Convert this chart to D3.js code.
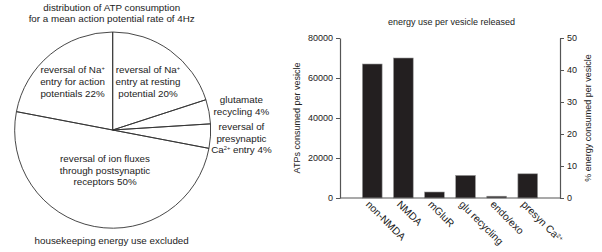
<!DOCTYPE html>
<html>
<head>
<meta charset="utf-8">
<script src="https://cdn.jsdelivr.net/npm/d3@7"></script>
<style>
  body { margin: 0; background: #fff; }
  text { font-family: Arial, "Liberation Sans", sans-serif; fill: #222; }
</style>
</head>
<body>
<svg id="chart"></svg>
<script>
// pie: ATP consumption (clockwise from 12 o'clock)
const pieLabels = [
    ["reversal of Na^+", "entry at resting", "potential 20%"],
    ["glutamate", "recycling 4%"],
    ["reversal of", "presynaptic", "Ca^2+ entry 4%"],
    ["reversal of ion fluxes", "through postsynaptic", "receptors 50%"],
    ["reversal of Na^+", "entry for action", "potentials 22%"]
];
const pieValues = [20, 4, 4, 50, 22];
const pieTitle = ["distribution of ATP consumption", "for a mean action potential rate of 4Hz"];
const pieNote = "housekeeping energy use excluded";

// bars: ATPs per vesicle
const barCategories = ["non-NMDA", "NMDA", "mGluR", "glu recycling", "endo/exo", "presyn Ca^2+"];
const barValues = [67000, 70000, 3000, 11300, 900, 12100];
const leftTicks = [0, 20000, 40000, 60000, 80000];
const rightTicks = [0, 10, 20, 30, 40, 50];

const W = 602, H = 252;
const svg = d3.select("#chart").attr("width", W).attr("height", H);

// write a line of text with ^sup parts
function richLine(sel, str, size) {
    const parts = str.split(/\^(\S+)/);
    parts.forEach((p, i) => {
        if (!p) return;
        const ts = sel.append("tspan").text(p);
        if (i % 2 === 1) {
            ts.attr("baseline-shift", "2.6px").style("font-size", (size * 0.58) + "px");
        }
    });
}

// ---------- pie ----------
const cx = 112.7, cy = 130, r = 98;
const labelRadius = [60, 131, 128, 41, 63];
const pieFont = 9.8;

const pie = d3.pie().sort(null).value(d => d);
const arcs = pie(pieValues);
const arc = d3.arc().innerRadius(0).outerRadius(r);

const pg = svg.append("g").attr("transform", `translate(${cx},${cy})`);
pg.selectAll("path")
    .data(arcs)
    .enter().append("path")
    .attr("d", arc)
    .attr("fill", "none")
    .attr("stroke", "#333")
    .attr("stroke-width", 0.9);

arcs.forEach((a, i) => {
    const c = d3.arc().innerRadius(labelRadius[i]).outerRadius(labelRadius[i]).centroid(a);
    const lines = pieLabels[i];
    const lh = 11.6;
    lines.forEach((ln, j) => {
        const t = pg.append("text")
            .attr("x", c[0] + (i === 2 ? 1 : 0))
            .attr("y", c[1] + (j - (lines.length - 1) / 2) * lh + 3.5)
            .attr("text-anchor", "middle")
            .style("font-size", pieFont + "px");
        richLine(t, ln, pieFont);
    });
});

pieTitle.forEach((ln, j) => {
    svg.append("text")
        .attr("x", cx - 1)
        .attr("y", 10.5 + j * 11.5)
        .attr("text-anchor", "middle")
        .style("font-size", pieFont + "px")
        .text(ln);
});
svg.append("text")
    .attr("x", cx - 1)
    .attr("y", 243.5)
    .attr("text-anchor", "middle")
    .style("font-size", pieFont + "px")
    .text(pieNote);

// ---------- bars ----------
const x0 = 340, x1 = 560, yTop = 38, yBot = 198;
const axisColor = "#555";
const barFont = 9;

const x = d3.scaleBand()
    .domain(barCategories)
    .range([x0, x1])
    .paddingInner(0.366)
    .paddingOuter(0.72);
const yL = d3.scaleLinear().domain([0, 80000]).range([yBot, yTop]);
const yR = d3.scaleLinear().domain([0, 50]).range([yBot, yTop]);

svg.append("g").selectAll("rect")
    .data(barCategories)
    .enter().append("rect")
    .attr("x", d => x(d))
    .attr("y", (d, i) => yL(barValues[i]))
    .attr("width", x.bandwidth())
    .attr("height", (d, i) => yBot - yL(barValues[i]))
    .attr("fill", "#231f20")
    .attr("stroke", "#999")
    .attr("stroke-width", 0.6);

const gl = svg.append("g")
    .attr("transform", `translate(${x0},0)`)
    .call(d3.axisLeft(yL).tickValues(leftTicks).tickFormat(d3.format("d"))
        .tickSize(4).tickSizeOuter(0).tickPadding(3));
const gr = svg.append("g")
    .attr("transform", `translate(${x1},0)`)
    .call(d3.axisRight(yR).tickValues(rightTicks).tickFormat(d3.format("d"))
        .tickSize(4).tickSizeOuter(0).tickPadding(3));
[gl, gr].forEach(g => {
    g.select(".domain").attr("stroke", axisColor).attr("stroke-width", 1.2);
    g.selectAll(".tick line").attr("stroke", axisColor).attr("stroke-width", 1);
    g.selectAll(".tick text").attr("fill", "#222").style("font-size", barFont + "px")
        .style("font-family", "Arial, 'Liberation Sans', sans-serif");
});

svg.append("line")
    .attr("x1", x0).attr("x2", x1)
    .attr("y1", yBot).attr("y2", yBot)
    .attr("stroke", axisColor).attr("stroke-width", 1.2);

const xFont = 10.3;
barCategories.forEach(c => {
    const px = x(c) + x.bandwidth() / 2 - 7;
    const t = svg.append("text")
        .attr("transform", `translate(${px},${yBot + 7}) rotate(45)`)
        .style("font-size", xFont + "px");
    richLine(t, c, xFont);
});

svg.append("text")
    .attr("x", 451.5)
    .attr("y", 24.5)
    .attr("text-anchor", "middle")
    .style("font-size", barFont + "px")
    .text("energy use per vesicle released");

svg.append("text")
    .attr("transform", `translate(300,118) rotate(-90)`)
    .attr("text-anchor", "middle")
    .style("font-size", barFont + "px")
    .text("ATPs consumed per vesicle");

svg.append("text")
    .attr("transform", `translate(591,118) rotate(-90)`)
    .attr("text-anchor", "middle")
    .style("font-size", barFont + "px")
    .text("% energy consumed per vesicle");
</script>
</body>
</html>
